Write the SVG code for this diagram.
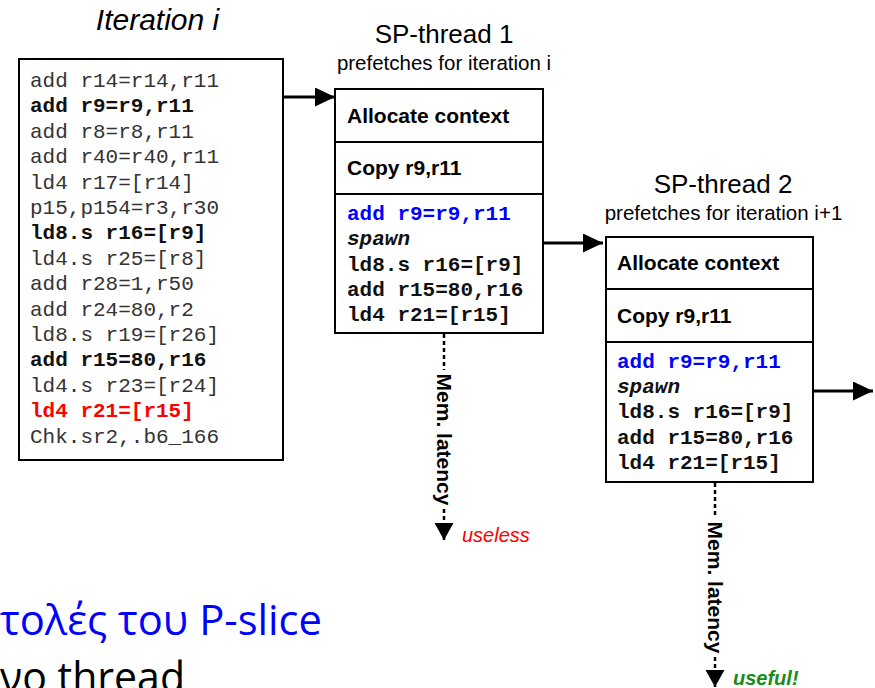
<svg xmlns="http://www.w3.org/2000/svg" width="875" height="688" viewBox="0 0 875 688">
<style>
  .mono { font-family: "Liberation Mono", "Courier New", monospace; font-size: 21px; fill: #333; }
  .b { font-weight: bold; fill: #111; }
  .blue { fill: #0000ff; }
  .red { fill: #ff0000; }
  .sans { font-family: "Liberation Sans", Arial, sans-serif; }
  .box { fill: #fff; stroke: #000; stroke-width: 2; }
  .hdr { font-family: "Liberation Sans", Arial, sans-serif; font-size: 21px; font-weight: bold; fill: #000; }
  .conn { stroke: #000; stroke-width: 3; fill: none; }
  .dash { stroke: #000; stroke-width: 2.5; fill: none; stroke-dasharray: 4 3; }
</style>
<defs>
  <marker id="head" markerUnits="userSpaceOnUse" markerWidth="21" markerHeight="20" refX="20" refY="9.5" orient="auto">
    <path d="M0,0 L20,9.5 L0,19 z" fill="#000"/>
  </marker>
  <marker id="headS" markerUnits="userSpaceOnUse" markerWidth="18" markerHeight="20" refX="17" refY="9.5" orient="auto">
    <path d="M0,0 L17,9.5 L0,19 z" fill="#000"/>
  </marker>
</defs>

<g id="iteration">
  <text class="sans" x="157.5" y="30" font-size="30" font-style="italic" text-anchor="middle" fill="#000">Iteration i</text>
  <rect class="box" x="19" y="59" width="264" height="401"/>
  <text class="mono" x="30" y="87">add r14=r14,r11</text>
  <text class="mono b" x="30" y="112.4">add r9=r9,r11</text>
  <text class="mono" x="30" y="137.8">add r8=r8,r11</text>
  <text class="mono" x="30" y="163.2">add r40=r40,r11</text>
  <text class="mono" x="30" y="188.6">ld4 r17=[r14]</text>
  <text class="mono" x="30" y="214">p15,p154=r3,r30</text>
  <text class="mono b" x="30" y="239.4">ld8.s r16=[r9]</text>
  <text class="mono" x="30" y="264.8">ld4.s r25=[r8]</text>
  <text class="mono" x="30" y="290.2">add r28=1,r50</text>
  <text class="mono" x="30" y="315.6">add r24=80,r2</text>
  <text class="mono" x="30" y="341">ld8.s r19=[r26]</text>
  <text class="mono b" x="30" y="366.4">add r15=80,r16</text>
  <text class="mono" x="30" y="391.8">ld4.s r23=[r24]</text>
  <text class="mono b red" x="30" y="417.2">ld4 r21=[r15]</text>
  <text class="mono" x="30" y="442.6">Chk.sr2,.b6_166</text>
</g>

<g id="sp1">
  <text class="sans" x="444" y="43" font-size="26" text-anchor="middle" fill="#000">SP-thread 1</text>
  <text class="sans" x="444" y="70" font-size="20.5" text-anchor="middle" fill="#000">prefetches for iteration i</text>
  <rect class="box" x="335" y="89" width="208" height="244"/>
  <line x1="335" y1="142" x2="543" y2="142" stroke="#000" stroke-width="2"/>
  <line x1="335" y1="194" x2="543" y2="194" stroke="#000" stroke-width="2"/>
  <text class="hdr" x="347" y="122.5">Allocate context</text>
  <text class="hdr" x="347" y="175">Copy r9,r11</text>
  <text class="mono b blue" x="347" y="220">add r9=r9,r11</text>
  <text class="mono b" x="347" y="245.3" font-style="italic">spawn</text>
  <text class="mono b" x="347" y="270.6">ld8.s r16=[r9]</text>
  <text class="mono b" x="347" y="296">add r15=80,r16</text>
  <text class="mono b" x="347" y="321.3">ld4 r21=[r15]</text>
</g>

<g id="sp2">
  <text class="sans" x="723" y="193" font-size="26" text-anchor="middle" fill="#000">SP-thread 2</text>
  <text class="sans" x="723.5" y="220" font-size="20.5" text-anchor="middle" fill="#000">prefetches for iteration i+1</text>
  <rect class="box" x="606" y="237" width="207" height="245"/>
  <line x1="606" y1="289" x2="813" y2="289" stroke="#000" stroke-width="2"/>
  <line x1="606" y1="342" x2="813" y2="342" stroke="#000" stroke-width="2"/>
  <text class="hdr" x="617" y="270">Allocate context</text>
  <text class="hdr" x="617" y="322.5">Copy r9,r11</text>
  <text class="mono b blue" x="617" y="367.5">add r9=r9,r11</text>
  <text class="mono b" x="617" y="392.8" font-style="italic">spawn</text>
  <text class="mono b" x="617" y="418.1">ld8.s r16=[r9]</text>
  <text class="mono b" x="617" y="443.5">add r15=80,r16</text>
  <text class="mono b" x="617" y="468.8">ld4 r21=[r15]</text>
</g>

<g id="connectors">
  <line class="conn" x1="283" y1="97" x2="335" y2="97" marker-end="url(#head)"/>
  <line class="conn" x1="543" y1="243" x2="603" y2="243" marker-end="url(#head)"/>
  <line class="conn" x1="813" y1="391" x2="873" y2="391" marker-end="url(#head)"/>
  <line class="dash" x1="444" y1="334" x2="444" y2="370"/>
  <line class="dash" x1="444" y1="509" x2="444" y2="540" marker-end="url(#headS)"/>
  <line class="dash" x1="715" y1="483" x2="715" y2="518"/>
  <line class="dash" x1="715" y1="657" x2="715" y2="687" marker-end="url(#headS)"/>
</g>

<g id="labels">
  <text class="hdr" transform="translate(444,439.5) rotate(90)" text-anchor="middle" dy="7">Mem. latency</text>
  <text class="sans" x="462" y="542" font-size="20" font-style="italic" fill="#ff0000">useless</text>
  <text class="hdr" transform="translate(715,587.5) rotate(90)" text-anchor="middle" dy="7">Mem. latency</text>
  <text class="sans" x="733" y="685" font-size="20" font-style="italic" font-weight="bold" fill="#1a8c1a">useful!</text>
</g>

<g id="slide-text">
  <text x="0" y="635" font-family="'Open Sans', 'Noto Sans', sans-serif" font-size="42" fill="#0000ff" textLength="322" lengthAdjust="spacingAndGlyphs">τολές του P-slice</text>
  <text x="0" y="692" font-family="'Open Sans', 'Noto Sans', sans-serif" font-size="42" fill="#000" textLength="185" lengthAdjust="spacingAndGlyphs">νο thread</text>
</g>
</svg>
